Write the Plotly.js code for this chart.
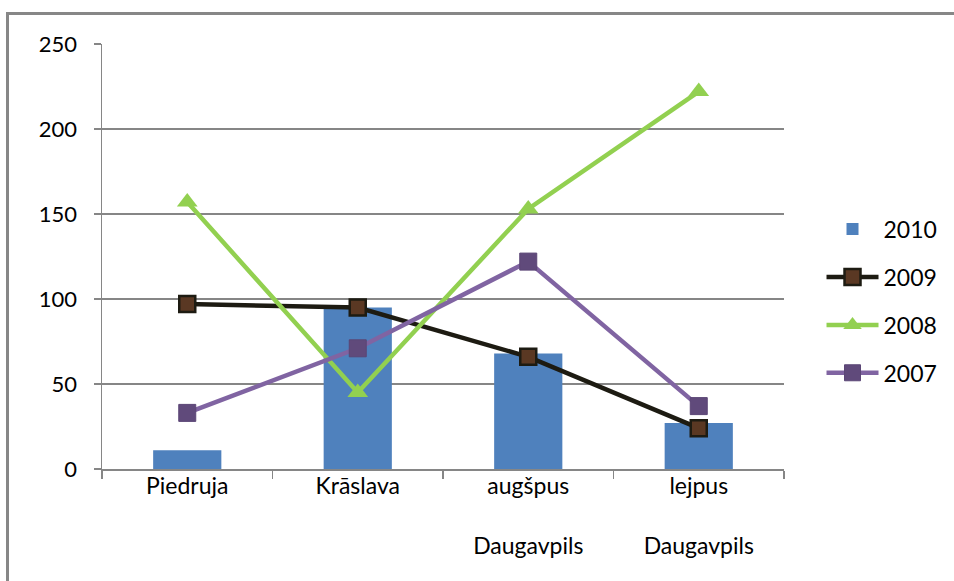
<!DOCTYPE html>
<html>
<head>
<meta charset="utf-8">
<script src="https://cdn.plot.ly/plotly-3.0.1.min.js"></script>
<style>
  html, body { margin: 0; padding: 0; background: #ffffff; }
  #wrap { position: relative; width: 954px; height: 581px; overflow: hidden; }
  #chart { position: absolute; left: 0; top: 0; width: 954px; height: 581px; }
  #frame {
    position: absolute; left: 6px; top: 12px; width: 1200px; height: 900px;
    border-left: 3px solid #878787; border-top: 3px solid #878787;
    pointer-events: none;
  }
</style>
</head>
<body>
<div id="wrap">
  <div id="chart"></div>
  <div id="frame"></div>
</div>
<script>
// Sampling sites (category axis labels; two-part names wrap onto a lower line)
const categories = ['Piedruja', 'Krāslava', 'augšpus<br><br>Daugavpils', 'lejpus<br><br>Daugavpils'];

// Yearly values per site
const v2010 = [11, 95, 68, 27];
const v2009 = [97, 95, 66, 24];
const v2008 = [157, 45, 153, 222];
const v2007 = [33, 71, 122, 37];

const yTicks = [0, 50, 100, 150, 200, 250];

const FONT = 'Lato, "Liberation Sans", Arial, sans-serif';

const traces = [
  {
    type: 'bar', name: '2010', x: categories, y: v2010,
    marker: { color: '#4F81BD' }, legendgroup: 'g2010'
  },
  {
    type: 'scatter', mode: 'lines+markers', name: '2009', x: categories, y: v2009,
    line: { color: '#1d1b12', width: 4.5 },
    marker: { symbol: 'square', size: 16, color: '#5a3823', line: { color: '#1d1b12', width: 2.5 } },
    legendgroup: 'g2009'
  },
  {
    type: 'scatter', mode: 'lines+markers', name: '2008', x: categories, y: v2008,
    line: { color: '#92D050', width: 4.5 },
    marker: { symbol: 'triangle-up', size: 18, color: '#92D050' },
    legendgroup: 'g2008'
  },
  {
    type: 'scatter', mode: 'lines+markers', name: '2007', x: categories, y: v2007,
    line: { color: '#8064A2', width: 4.5 },
    marker: { symbol: 'square', size: 17, color: '#604A7B', line: { color: '#5b4676', width: 1 } },
    legendgroup: 'g2007'
  }
];

const layout = {
  width: 954, height: 581,
  margin: { l: 102, r: 166, t: 44, b: 112 },
  paper_bgcolor: 'rgba(0,0,0,0)',
  plot_bgcolor: 'rgba(0,0,0,0)',
  font: { family: FONT, size: 22, color: '#000000' },
  bargap: 0.6,
  showlegend: true,
  legend: {
    x: 1.055, xanchor: 'left', y: 0.395, yanchor: 'middle',
    traceorder: 'grouped', tracegroupgap: 15,
    itemwidth: 52,
    font: { family: FONT, size: 23, color: '#000000' },
    bgcolor: 'rgba(0,0,0,0)'
  },
  xaxis: {
    type: 'category',
    range: [-0.5, 3.5],
    showline: true, linecolor: '#868686', linewidth: 1.5,
    ticks: 'outside', tickson: 'boundaries', ticklen: 8, tickcolor: '#868686', tickwidth: 1.5,
    showgrid: false, zeroline: false,
    tickfont: { family: FONT, size: 23, color: '#000000' },
    ticklabelstandoff: -4,
    fixedrange: true
  },
  yaxis: {
    range: [0, 250],
    tickvals: yTicks,
    showline: true, linecolor: '#868686', linewidth: 1.5,
    ticks: 'outside', ticklen: 7, tickcolor: '#868686', tickwidth: 1.5,
    showgrid: true, gridcolor: '#868686', gridwidth: 1.5,
    zeroline: false,
    tickfont: { family: FONT, size: 22, color: '#000000' },
    ticklabelstandoff: 12,
    fixedrange: true
  }
};

Plotly.newPlot('chart', traces, layout, { displayModeBar: false, staticPlot: true });
</script>
</body>
</html>
